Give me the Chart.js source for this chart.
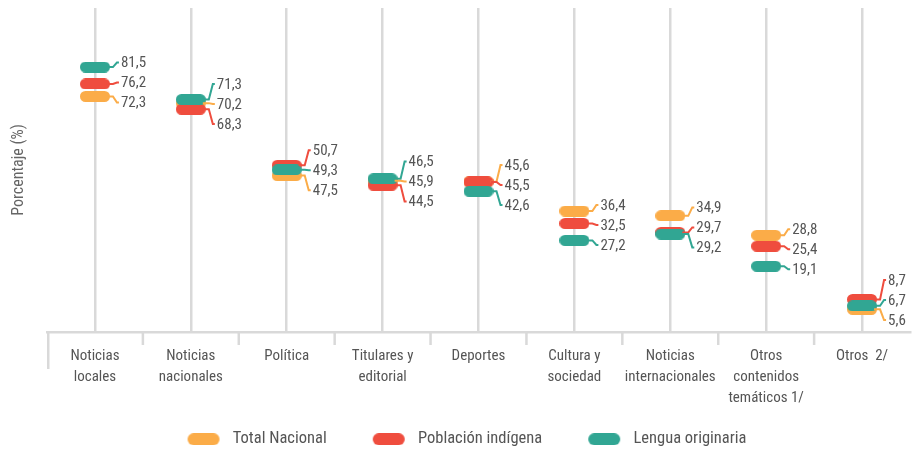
<!DOCTYPE html>
<html>
<head>
<meta charset="utf-8">
<script src="https://cdn.jsdelivr.net/npm/chart.js@4/dist/chart.umd.min.js"></script>
<style>
  html, body { margin: 0; padding: 0; background: #fff; }
  #wrap { width: 915px; height: 453px; }
</style>
</head>
<body>
<div id="wrap"><canvas id="chart" width="915" height="453"></canvas></div>
<script>
const categories = [
  ["Noticias", "locales"],
  ["Noticias", "nacionales"],
  ["Política"],
  ["Titulares y", "editorial"],
  ["Deportes"],
  ["Cultura y", "sociedad"],
  ["Noticias", "internacionales"],
  ["Otros", "contenidos", "temáticos 1/"],
  ["Otros  2/"]
];
const seriesNames = ["Total Nacional", "Población indígena", "Lengua originaria"];
const totalNacional = [72.3, 70.2, 47.5, 45.9, 45.6, 36.4, 34.9, 28.8, 5.6];
const poblacionIndigena = [76.2, 68.3, 50.7, 44.5, 45.5, 32.5, 29.7, 25.4, 8.7];
const lenguaOriginaria = [81.5, 71.3, 49.3, 46.5, 42.6, 27.2, 29.2, 19.1, 6.7];

const colors = ["#FBAC48", "#EF4D3E", "#31A693"];
const FONT = "'Roboto Condensed', 'Liberation Sans Narrow', 'DejaVu Sans Condensed', sans-serif";
const GRID = "#d9d9d9";

// pill shaped marker, with optional empty space left/right (used for legend spacing)
function makePill(color, w, h, padLeft, padRight) {
  padLeft = padLeft || 0;
  const c = document.createElement("canvas");
  c.width = w + padLeft + (padRight || 0);
  c.height = h;
  const ctx = c.getContext("2d");
  const r = h / 2;
  ctx.fillStyle = color;
  ctx.beginPath();
  ctx.moveTo(padLeft + r, 0);
  ctx.lineTo(padLeft + w - r, 0);
  ctx.arc(padLeft + w - r, r, r, -Math.PI / 2, Math.PI / 2);
  ctx.lineTo(padLeft + r, h);
  ctx.arc(padLeft + r, r, r, Math.PI / 2, Math.PI * 1.5);
  ctx.closePath();
  ctx.fill();
  return c;
}

const pointPills = colors.map(c => makePill(c, 30, 11));
const legendPills = colors.map(c => makePill(c, 32, 12, 19, 5));

const fmt = v => v.toFixed(1).replace(".", ",");

// spread labels of one category so they don't overlap
function spreadLabels(items, gap, maxY) {
  items.sort((a, b) => a.y - b.y);
  let groups = items.map(it => ({ items: [it], center: it.y }));
  let merged = true;
  while (merged) {
    merged = false;
    for (let i = 0; i < groups.length - 1; i++) {
      const a = groups[i], b = groups[i + 1];
      const aEnd = a.center + (a.items.length - 1) * gap / 2;
      const bStart = b.center - (b.items.length - 1) * gap / 2;
      if (bStart - aEnd < gap) {
        const all = a.items.concat(b.items);
        const center = all.reduce((s, it) => s + it.y, 0) / all.length;
        groups.splice(i, 2, { items: all, center });
        merged = true;
        break;
      }
    }
  }
  groups.forEach(g => {
    let start = g.center - (g.items.length - 1) * gap / 2;
    const end = start + (g.items.length - 1) * gap;
    if (end > maxY) start -= end - maxY;
    g.items.forEach((it, k) => { it.ly = start + k * gap; });
  });
}

const valueLabels = {
  id: "valueLabels",
  afterDatasetsDraw(chart) {
    const ctx = chart.ctx;
    const xs = chart.scales.x, ys = chart.scales.y;
    const all = [totalNacional, poblacionIndigena, lenguaOriginaria];
    ctx.save();
    ctx.font = "15px " + FONT;
    ctx.textBaseline = "middle";
    ctx.textAlign = "left";
    ctx.fillStyle = "#555";
    categories.forEach((_, i) => {
      const cx = xs.getPixelForValue(i);
      const items = all.map((arr, s) => ({ s, v: arr[i], y: ys.getPixelForValue(arr[i]) }));
      spreadLabels(items, 20, chart.chartArea.bottom - 12);
      items.forEach(it => {
        ctx.strokeStyle = colors[it.s];
        ctx.lineWidth = 2;
        ctx.beginPath();
        ctx.moveTo(cx + 12, it.y);
        ctx.lineTo(cx + 18, it.y);
        ctx.lineTo(cx + 22, it.ly);
        ctx.lineTo(cx + 24, it.ly);
        ctx.stroke();
        ctx.fillText(fmt(it.v), cx + 26, it.ly + 1);
      });
    });
    ctx.restore();
  }
};

// small separators below the x axis between categories
const separators = {
  id: "separators",
  afterDraw(chart) {
    const ctx = chart.ctx;
    const xs = chart.scales.x;
    const half = (xs.getPixelForValue(1) - xs.getPixelForValue(0)) / 2;
    const bottom = chart.chartArea.bottom;
    ctx.save();
    ctx.strokeStyle = GRID;
    ctx.lineWidth = 2.5;
    categories.forEach((_, i) => {
      const x = xs.getPixelForValue(i) - half + (i === 0 ? 1.25 : 0);
      ctx.beginPath();
      ctx.moveTo(x, bottom);
      ctx.lineTo(x, bottom + (i === 0 ? 37 : 13));
      ctx.stroke();
    });
    ctx.restore();
  }
};

const data = [totalNacional, poblacionIndigena, lenguaOriginaria];

new Chart(document.getElementById("chart"), {
  type: "line",
  data: {
    labels: categories,
    datasets: data.map((arr, s) => ({
      label: seriesNames[s],
      data: arr,
      showLine: false,
      pointStyle: pointPills[s],
      backgroundColor: colors[s],
      borderColor: colors[s],
      order: 3 - s
    }))
  },
  options: {
    responsive: false,
    animation: false,
    layout: { padding: { top: 8, left: 0, right: 0, bottom: 0 } },
    scales: {
      x: {
        offset: true,
        grid: { offset: false, color: GRID, lineWidth: 2.5, drawTicks: false },
        border: { display: true, color: GRID, width: 2.5 },
        ticks: {
          autoSkip: false,
          maxRotation: 0,
          padding: 14,
          color: "#555",
          font: { family: FONT, size: 15, lineHeight: 1.4 }
        },
        afterFit: s => { s.height = 72; }
      },
      y: {
        min: -1.5,
        max: 100,
        grid: { display: false },
        border: { display: false },
        ticks: { display: false },
        title: {
          display: true,
          text: "Porcentaje (%)",
          color: "#666",
          padding: { top: 9, bottom: 0 },
          font: { family: FONT, size: 16 }
        },
        afterFit: s => { s.width = 47; }
      }
    },
    plugins: {
      tooltip: { enabled: false },
      legend: {
        position: "bottom",
        maxHeight: 49,
        labels: {
          usePointStyle: true,
          pointStyleWidth: 56,
          padding: 27,
          color: "#555",
          font: { family: FONT, size: 16.5 },
          generateLabels: chart => {
            const items = Chart.defaults.plugins.legend.labels.generateLabels(chart);
            items.forEach(it => { it.pointStyle = legendPills[it.datasetIndex]; });
            return items.sort((a, b) => a.datasetIndex - b.datasetIndex);
          }
        }
      }
    }
  },
  plugins: [valueLabels, separators]
});
</script>
</body>
</html>
